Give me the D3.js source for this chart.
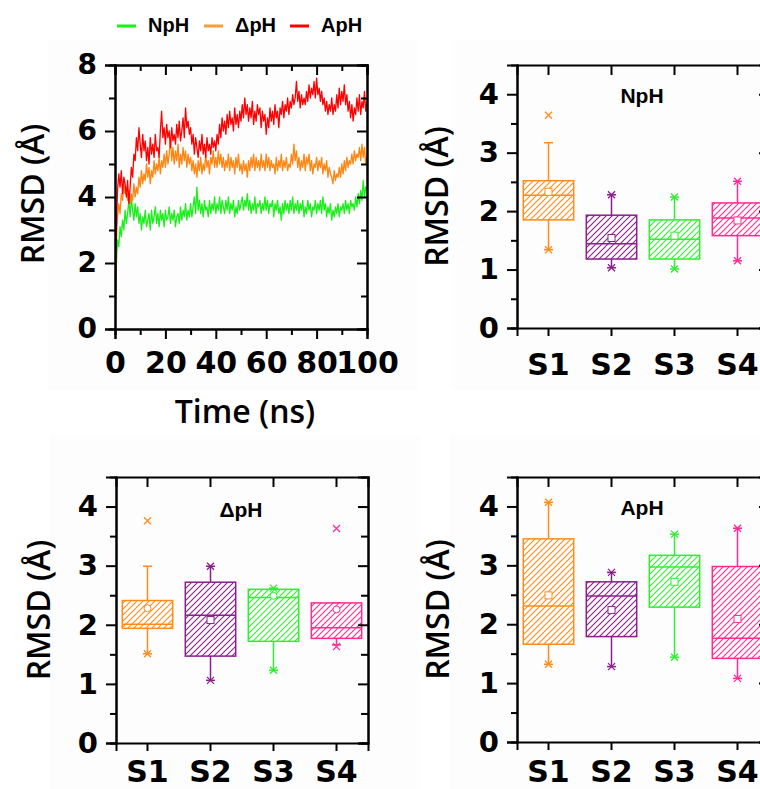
<!DOCTYPE html>
<html>
<head>
<meta charset="utf-8">
<script src="https://cdn.jsdelivr.net/npm/d3@7"></script>
<style>
  html, body { margin: 0; padding: 0; background: #fff; }
  svg { display: block; }
  .tick text { font-family: "DejaVu Sans", sans-serif; font-weight: bold; fill: #000; }
</style>
</head>
<body>
<svg id="fig" width="760" height="789"></svg>
<script>
// ---------- RMSD trajectories (Å), sampled every 0.5 ns over 0–100 ns ----------
const sampleStepNs = 0.5;
const rmsdNpH = [
  0.0,1.9,2.7,2.5,3.1,2.8,3.3,3.0,3.6,3.2,3.5,3.9,3.4,4.0,3.6,3.3,3.8,3.4,3.7,3.2,
  3.5,3.0,3.4,3.2,3.6,3.1,3.3,3.5,3.0,3.6,3.2,3.4,3.7,3.2,3.5,3.1,3.6,3.3,3.5,3.1,
  3.6,3.3,3.4,3.7,3.2,3.5,3.3,3.6,3.1,3.4,3.5,3.2,3.7,3.3,3.6,3.4,3.8,3.3,3.6,3.4,
  3.8,3.4,3.7,4.0,3.5,4.3,3.6,3.9,3.5,3.8,3.4,3.9,3.6,3.7,3.4,3.9,3.5,3.8,3.6,4.0,
  3.5,3.8,3.6,4.0,3.5,3.9,3.7,3.5,3.9,3.6,4.0,3.5,3.8,3.6,3.9,3.4,3.7,3.5,3.9,3.6,
  3.8,4.0,3.6,3.9,3.7,4.1,3.6,3.9,3.5,3.8,3.6,4.0,3.5,3.8,3.7,3.9,3.5,3.8,3.6,4.0,
  3.6,3.9,3.5,3.8,3.7,3.9,3.4,3.8,3.6,3.9,3.5,3.7,3.3,3.8,3.5,3.9,3.6,3.8,3.5,3.9,
  3.6,4.0,3.5,3.8,3.6,3.9,3.5,3.8,3.6,3.9,3.4,3.7,3.5,3.9,3.6,3.8,3.4,3.7,3.6,3.9,
  3.5,3.8,3.6,3.9,3.5,4.0,3.6,3.8,3.4,3.7,3.5,3.8,3.3,3.6,3.4,3.7,3.5,3.8,3.4,3.7,
  3.6,3.8,3.5,3.9,3.6,3.8,3.5,3.9,3.7,3.8,3.6,4.0,3.7,4.1,3.8,4.2,3.9,4.5,4.0,4.3,
  4.2];
const rmsdDpH = [
  0.0,2.6,3.4,3.8,3.5,4.1,3.9,4.4,4.1,4.3,3.9,4.2,3.8,4.1,3.9,4.4,4.0,4.3,4.1,4.6,
  4.3,4.8,4.4,4.7,4.5,5.0,4.6,4.9,4.4,4.8,4.6,5.1,4.7,5.0,4.8,5.2,4.7,5.1,4.9,5.3,
  4.9,5.4,5.0,5.3,5.8,5.1,5.5,5.0,5.4,5.1,5.6,4.9,5.3,5.0,5.5,5.1,5.4,4.9,5.3,5.0,
  5.2,4.8,5.1,4.7,5.0,4.6,5.1,4.8,5.2,4.7,5.0,4.8,5.3,4.9,5.1,4.7,5.2,5.0,5.4,4.9,
  5.2,4.9,5.4,5.0,5.3,4.9,5.2,4.8,5.1,4.9,5.3,4.8,5.2,4.9,5.1,4.7,5.2,4.9,5.3,4.8,
  5.0,4.7,5.1,4.8,5.0,4.6,5.1,4.8,5.2,4.9,5.3,4.8,5.2,4.9,5.1,4.8,5.3,4.9,5.1,4.8,
  5.3,4.9,5.2,4.8,5.1,4.9,5.0,4.7,5.2,4.8,5.1,4.9,5.3,4.8,5.1,4.9,5.2,4.8,5.0,4.9,
  5.3,5.0,5.6,5.1,5.4,4.9,5.2,4.8,5.1,4.9,5.3,4.8,5.2,5.0,5.3,4.8,5.1,4.7,5.0,4.9,
  5.2,4.8,5.1,4.9,5.2,4.7,5.0,4.8,5.1,4.6,4.9,4.7,4.6,4.4,4.8,4.5,4.7,4.6,4.9,4.6,
  5.0,4.7,5.1,4.8,5.2,4.9,5.1,5.0,5.3,5.0,5.4,5.1,5.3,5.2,5.5,5.1,5.6,5.2,5.5,5.0,
  5.3];
const rmsdApH = [
  0.0,3.0,4.2,4.7,4.3,4.8,4.1,4.6,4.4,4.0,4.5,3.8,4.3,4.9,4.6,5.3,5.1,5.8,5.4,6.1,
  5.6,5.2,5.9,5.4,5.7,5.1,5.5,5.0,5.8,5.3,5.6,5.2,5.9,5.4,5.5,5.2,6.0,6.6,5.8,6.1,
  5.6,6.2,5.8,6.0,5.5,6.1,5.7,5.9,5.6,6.2,5.8,6.3,5.7,6.0,6.4,5.8,6.7,6.1,6.3,5.9,
  6.1,5.6,5.9,5.3,5.8,5.5,5.2,5.7,5.4,5.9,5.3,5.6,5.2,5.8,5.4,5.6,5.3,5.8,5.5,5.7,
  5.4,5.9,5.6,6.2,5.8,6.4,6.0,6.3,5.9,6.5,6.1,6.6,6.2,6.4,6.0,6.7,6.2,6.5,6.1,6.6,
  6.3,6.8,6.4,7.0,6.5,6.8,6.3,6.7,6.4,6.9,6.2,6.6,6.3,6.8,6.5,6.7,6.1,6.6,6.3,6.5,
  5.9,6.4,6.1,6.7,6.3,6.6,6.2,6.8,6.4,6.6,6.1,6.7,6.5,6.9,6.4,6.8,6.6,7.0,6.5,6.9,
  6.7,7.1,6.8,7.0,7.5,6.9,7.2,6.7,7.1,6.8,7.0,6.8,7.2,6.9,7.4,7.0,7.3,7.1,7.5,7.0,
  7.6,7.1,7.3,6.9,7.2,6.8,7.0,6.6,6.9,6.5,6.8,6.6,7.0,6.5,6.8,6.6,7.1,6.7,7.3,6.8,
  7.2,6.9,7.4,6.8,7.1,6.6,6.9,6.4,6.8,6.3,6.7,6.5,7.0,6.6,7.1,6.5,6.9,6.7,7.2,6.6,
  6.9];
const seriesNames  = ["NpH", "ΔpH", "ApH"];
const seriesColors = ["#19f019", "#ff8410", "#ff0000"];
const legendColors = ["#19f019", "#ff9a3c", "#ff0000"];
const timeTicks    = [0, 20, 40, 60, 80, 100];
const rmsdTicks    = [0, 2, 4, 6, 8];

// ---------- per-site RMSD distributions (Å) ----------
const sites      = ["S1", "S2", "S3", "S4"];
const siteColors = ["#ff8c1a", "#8c1e8c", "#2ef02e", "#ff2a95"];
const boxTicks   = [0, 1, 2, 3, 4];

// NpH
const npQ1    = [1.85, 1.18, 1.18, 1.58];
const npMed   = [2.27, 1.44, 1.52, 1.88];
const npQ3    = [2.52, 1.93, 1.85, 2.14];
const npMean  = [2.33, 1.54, 1.58, 1.84];
const npLo    = [1.34, 1.03, 1.01, 1.15];
const npHi    = [3.17, 2.28, 2.24, 2.51];
const npMin   = [1.34, 1.03, 1.01, 1.15];
const npMax   = [3.64, 2.28, 2.24, 2.51];
// ΔpH
const dpQ1    = [1.94, 1.47, 1.72, 1.77];
const dpMed   = [2.01, 2.16, 2.46, 1.95];
const dpQ3    = [2.41, 2.72, 2.60, 2.37];
const dpMean  = [2.28, 2.08, 2.49, 2.26];
const dpLo    = [1.51, 1.06, 1.23, 1.66];
const dpHi    = [2.99, 2.99, 2.62, 2.37];
const dpMin   = [1.51, 1.06, 1.23, 1.63];
const dpMax   = [3.76, 2.99, 2.62, 3.63];
// ApH
const apQ1    = [1.66, 1.79, 2.29, 1.42];
const apMed   = [2.31, 2.48, 2.97, 1.76];
const apQ3    = [3.45, 2.72, 3.17, 2.98];
const apMean  = [2.49, 2.24, 2.72, 2.09];
const apLo    = [1.32, 1.28, 1.44, 1.08];
const apHi    = [4.07, 2.88, 3.53, 3.63];
const apMin   = [1.32, 1.28, 1.44, 1.08];
const apMax   = [4.07, 2.88, 3.53, 3.63];

const npMeanShape = ["square", "square", "square", "square"];
const dpMeanShape = ["circle", "square", "circle", "circle"];
const apMeanShape = ["square", "square", "square", "square"];

// ---------- drawing ----------
const svg = d3.select("#fig");
const LABEL_FONT = '"Liberation Sans", Arial, sans-serif';
const TITLE_FONT = '"Open Sans", "Liberation Sans", sans-serif';
const intFmt = d3.format("d");

// faint panel backgrounds
[[48, 40, 370, 350], [452, 40, 308, 350], [50, 435, 370, 354], [450, 435, 310, 354]]
  .forEach(([x, y, w, h]) => svg.append("rect").attr("x", x).attr("y", y)
    .attr("width", w).attr("height", h).attr("fill", "#fdfdfd"));

// hatch patterns, one per site colour
const defs = svg.append("defs");
siteColors.forEach((c, i) => {
  const p = defs.append("pattern").attr("id", "hatch" + i)
    .attr("patternUnits", "userSpaceOnUse").attr("width", 6).attr("height", 6);
  p.append("rect").attr("width", 6).attr("height", 6).attr("fill", "#fff");
  p.append("path").attr("d", "M-1,1 l2,-2 M0,6 l6,-6 M5,7 l2,-2")
    .attr("stroke", c).attr("stroke-width", 1.1);
});

function styleAxis(g, fontSize) {
  g.select(".domain").attr("stroke", "#000").attr("stroke-width", 2);
  g.selectAll(".tick line").attr("stroke", "#000").attr("stroke-width", 2);
  g.selectAll(".tick text").style("font-size", fontSize + "px");
}

function yTitle(cx, cy, text) {
  svg.append("text")
    .attr("transform", `translate(${cx},${cy}) rotate(-90)`)
    .attr("text-anchor", "middle")
    .style("font-family", TITLE_FONT).style("font-weight", 600).style("font-size", "32px")
    .text(text);
}

// ---- time-series panel ----
(function () {
  const L = 115, R = 367, T = 65, B = 329;
  const x = d3.scaleLinear().domain([0, 100]).range([L, R]);
  const y = d3.scaleLinear().domain([0, 8]).range([B, T]);
  const g = svg.append("g");

  const line = d3.line().x((d, i) => x(i * sampleStepNs)).y(d => y(d));
  const clip = defs.append("clipPath").attr("id", "tsclip");
  clip.append("rect").attr("x", L).attr("y", T).attr("width", R - L).attr("height", B - T);
  const series = [rmsdNpH, rmsdDpH, rmsdApH];
  series.forEach((s, k) => {
    g.append("path").datum(s).attr("d", line).attr("fill", "none")
      .attr("clip-path", "url(#tsclip)")
      .attr("stroke", seriesColors[k]).attr("stroke-width", 1.3).attr("stroke-linejoin", "round");
  });

  // axes
  const minorY = [1, 3, 5, 7];
  const minorX = [10, 30, 50, 70, 90];
  styleAxis(g.append("g").attr("transform", `translate(${L},0)`)
    .call(d3.axisLeft(y).tickValues(rmsdTicks).tickFormat(intFmt).tickSize(10).tickPadding(8)), 28);
  styleAxis(g.append("g").attr("transform", `translate(${L},0)`)
    .call(d3.axisLeft(y).tickValues(minorY).tickSize(6).tickFormat("")), 28);
  styleAxis(g.append("g").attr("transform", `translate(${R},0)`)
    .call(d3.axisRight(y).tickValues(rmsdTicks).tickSize(-10).tickFormat("")), 28);
  styleAxis(g.append("g").attr("transform", `translate(${R},0)`)
    .call(d3.axisRight(y).tickValues(minorY).tickSize(-6).tickFormat("")), 28);
  styleAxis(g.append("g").attr("transform", `translate(0,${T})`)
    .call(d3.axisTop(x).tickValues(timeTicks).tickSize(-10).tickFormat("")), 28);
  styleAxis(g.append("g").attr("transform", `translate(0,${T})`)
    .call(d3.axisTop(x).tickValues(minorX).tickSize(-6).tickFormat("")), 28);
  const xb = g.append("g").attr("transform", `translate(0,${B})`)
    .call(d3.axisBottom(x).tickValues(timeTicks).tickFormat(intFmt).tickSize(10));
  styleAxis(xb, 30);
  xb.selectAll(".tick text").attr("y", 44).attr("dy", 0);
  styleAxis(g.append("g").attr("transform", `translate(0,${B})`)
    .call(d3.axisBottom(x).tickValues(minorX).tickSize(6).tickFormat("")), 30);

  yTitle(44, 194, "RMSD (Å)");
  svg.append("text").attr("x", 245).attr("y", 423).attr("text-anchor", "middle")
    .style("font-family", TITLE_FONT).style("font-weight", 600).style("font-size", "32px")
    .text("Time (ns)");

  // legend
  const lx = [117, 204, 290];
  seriesNames.forEach((n, k) => {
    svg.append("line").attr("x1", lx[k]).attr("x2", lx[k] + 19).attr("y1", 26).attr("y2", 26)
      .attr("stroke", legendColors[k]).attr("stroke-width", 3);
    svg.append("text").attr("x", lx[k] + 31).attr("y", 32)
      .style("font-family", LABEL_FONT).style("font-weight", "bold").style("font-size", "20px")
      .text(n);
  });
})();

// ---- box-plot panels ----
function boxPanel(o) {
  const { L, R, T, B, title, q1, med, q3, mean, lo, hi, mn, mx, shape, titleY, yTitleX, labelY } = o;
  const x = d3.scaleBand().domain(sites).range([L, R]).paddingInner(0).paddingOuter(0);
  const y = d3.scaleLinear().domain([0, 4.5]).range([B, T]);
  const g = svg.append("g");
  const bw = x.bandwidth() * 0.8;
  const cap = 4.5;

  sites.forEach((s, i) => {
    const cx = x(s) + x.bandwidth() / 2;
    const c = siteColors[i];
    const w = g.append("g").attr("stroke", c).attr("fill", "none").attr("stroke-width", 1.5);
    // whiskers
    w.append("line").attr("x1", cx).attr("x2", cx).attr("y1", y(q3[i])).attr("y2", y(hi[i]));
    w.append("line").attr("x1", cx).attr("x2", cx).attr("y1", y(q1[i])).attr("y2", y(lo[i]));
    w.append("line").attr("x1", cx - cap).attr("x2", cx + cap).attr("y1", y(hi[i])).attr("y2", y(hi[i]));
    w.append("line").attr("x1", cx - cap).attr("x2", cx + cap).attr("y1", y(lo[i])).attr("y2", y(lo[i]));
    // box
    w.append("rect").attr("x", cx - bw / 2).attr("y", y(q3[i]))
      .attr("width", bw).attr("height", y(q1[i]) - y(q3[i]))
      .attr("fill", `url(#hatch${i})`);
    w.append("line").attr("x1", cx - bw / 2).attr("x2", cx + bw / 2)
      .attr("y1", y(med[i])).attr("y2", y(med[i]));
    // mean
    if (shape[i] === "circle") {
      w.append("circle").attr("cx", cx).attr("cy", y(mean[i])).attr("r", 3.5)
        .attr("fill", "#fff").attr("stroke-width", 1);
    } else {
      w.append("rect").attr("x", cx - 3.5).attr("y", y(mean[i]) - 3.5)
        .attr("width", 7).attr("height", 7).attr("fill", "#fff").attr("stroke-width", 1);
    }
    // min / max crosses
    [mn[i], mx[i]].forEach(v => {
      const yy = y(v), d = 3.5;
      w.append("path").attr("d", `M${cx - d},${yy - d}L${cx + d},${yy + d}M${cx - d},${yy + d}L${cx + d},${yy - d}`)
        .attr("stroke-width", 1.3);
    });
  });

  const minorY = [0.5, 1.5, 2.5, 3.5];
  styleAxis(g.append("g").attr("transform", `translate(${L},0)`)
    .call(d3.axisLeft(y).tickValues(boxTicks).tickFormat(intFmt).tickSize(10).tickPadding(8)), 29);
  styleAxis(g.append("g").attr("transform", `translate(${L},0)`)
    .call(d3.axisLeft(y).tickValues(minorY).tickSize(6).tickFormat("")), 29);
  styleAxis(g.append("g").attr("transform", `translate(${R},0)`)
    .call(d3.axisRight(y).tickValues(boxTicks).tickSize(-10).tickFormat("")), 29);
  styleAxis(g.append("g").attr("transform", `translate(${R},0)`)
    .call(d3.axisRight(y).tickValues(minorY).tickSize(-7).tickFormat("")), 29);
  styleAxis(g.append("g").attr("transform", `translate(0,${T})`)
    .call(d3.axisTop(x).tickSize(-10).tickFormat("")), 29);
  const xb = g.append("g").attr("transform", `translate(0,${B})`)
    .call(d3.axisBottom(x).tickSize(8));
  styleAxis(xb, 30);
  xb.selectAll(".tick text").attr("y", labelY - B).attr("dy", 0);

  svg.append("text").attr("x", L + 125).attr("y", titleY).attr("text-anchor", "middle")
    .style("font-family", LABEL_FONT).style("font-weight", "bold").style("font-size", "21px")
    .text(title);
  yTitle(yTitleX, (T + B) / 2, "RMSD (Å)");
}

boxPanel({ L: 517, R: 769, T: 65, B: 328, title: "NpH", titleY: 103, yTitleX: 448, labelY: 375,
  q1: npQ1, med: npMed, q3: npQ3, mean: npMean, lo: npLo, hi: npHi, mn: npMin, mx: npMax, shape: npMeanShape });
boxPanel({ L: 116, R: 368, T: 477, B: 743, title: "ΔpH", titleY: 517, yTitleX: 50, labelY: 782,
  q1: dpQ1, med: dpMed, q3: dpQ3, mean: dpMean, lo: dpLo, hi: dpHi, mn: dpMin, mx: dpMax, shape: dpMeanShape });
boxPanel({ L: 517, R: 769, T: 477, B: 742, title: "ApH", titleY: 515, yTitleX: 449, labelY: 782,
  q1: apQ1, med: apMed, q3: apQ3, mean: apMean, lo: apLo, hi: apHi, mn: apMin, mx: apMax, shape: apMeanShape });
</script>
</body>
</html>
